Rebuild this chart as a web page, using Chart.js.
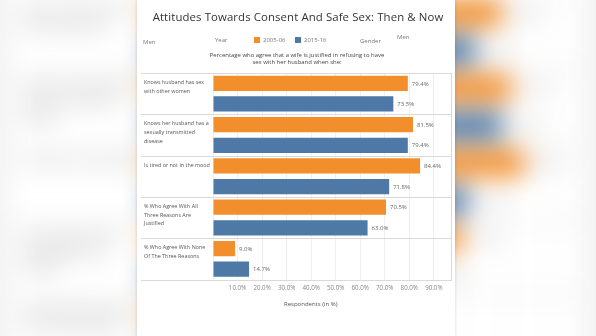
<!DOCTYPE html>
<html>
<head>
<meta charset="utf-8">
<script src="https://cdn.jsdelivr.net/npm/chart.js@4/dist/chart.umd.min.js"></script>
<style>
  html, body { margin: 0; padding: 0; }
  body {
    width: 596px; height: 336px; overflow: hidden; position: relative;
    background: #f2f2f2; font-family: 'Open Sans', sans-serif;
  }
  .stage { position: absolute; left: 0; top: 0; width: 596px; height: 336px; }
  /* blurred, zoomed copy behind the card */
  .stage.bg { transform-origin: 0 0; transform: translate(-240px, -139px) scale(1.82); filter: blur(7px); }
  .sheet { position: absolute; left: 137px; top: 0; width: 318px; height: 336px; background: #fff; }
  .fg .sheet { box-shadow: 0 0 3px rgba(0,0,0,0.16); }
  .t { position: absolute; white-space: nowrap; color: #777; font-size: 6px; line-height: 8px; }
  .title { position: absolute; left: 0; width: 596px; top: 8px; text-align: center; font-size: 11.4px; line-height: 18px; color: #333; letter-spacing: 0.1px; }
  .sub { position: absolute; left: 197px; width: 200px; top: 52px; text-align: center; font-size: 5.95px; line-height: 7px; color: #444; }
  .sw { position: absolute; width: 6px; height: 6px; top: 37px; }
  canvas { position: absolute; left: 0; top: 0; }
</style>
</head>
<body>
<script>
// ── DATA ──────────────────────────────────────────────────────────
const CATEGORIES = [
  ['Knows husband has sex', 'with other women'],
  ['Knows her husband has a', 'sexually transmitted', 'disease'],
  ['Is tired or not in the mood'],
  ['% Who Agree With All', 'Three Reasons Are', 'Justified'],
  ['% Who Agree With None', 'Of The Three Reasons']
];
const SERIES_NAMES = ['2005-06', '2015-16'];
const VALUES_2005 = [79.4, 81.5, 84.4, 70.5, 9.0];
const VALUES_2015 = [73.5, 79.4, 71.8, 63.0, 14.7];

const ORANGE = '#F28E2B';
const BLUE   = '#4E79A7';
const FONT   = "'Open Sans', sans-serif";

// ── DECORATION PLUGIN (row lines, row labels, value labels) ──────
const decor = {
  id: 'decor',
  afterDatasetsDraw(chart) {
    const { ctx, chartArea: a, scales: { y } } = chart;
    const step = (a.bottom - a.top) / CATEGORIES.length;
    ctx.save();
    ctx.strokeStyle = '#d9d9d9';
    ctx.lineWidth = 1;
    ctx.beginPath();
    for (let i = 0; i <= CATEGORIES.length; i++) {
      const yy = Math.round(a.top + i * step) + 0.5;
      ctx.moveTo(141, yy); ctx.lineTo(452, yy);
    }
    ctx.moveTo(Math.round(a.right) + 0.5, a.top);
    ctx.lineTo(Math.round(a.right) + 0.5, a.bottom);
    ctx.stroke();

    ctx.fillStyle = '#555';
    ctx.font = '5.4px ' + FONT;
    ctx.textBaseline = 'middle';
    ctx.textAlign = 'left';
    CATEGORIES.forEach((lines, i) => {
      const top = y.getPixelForValue(i) - step / 2;
      lines.forEach((l, j) => ctx.fillText(l, 144, top + 9.5 + j * 8.7));
    });

    ctx.fillStyle = '#666';
    ctx.font = '6px ' + FONT;
    chart.data.datasets.forEach((ds, di) => {
      chart.getDatasetMeta(di).data.forEach((bar, i) => {
        ctx.fillText(ds.data[i].toFixed(1) + '%', bar.x + 4, bar.y + 0.5);
      });
    });
    ctx.restore();
  }
};

// ── BUILD ONE STAGE (used for the card and for the blurred backdrop) ─
function buildStage(cls) {
  const st = document.createElement('div');
  st.className = 'stage ' + cls;
  st.innerHTML = `
    <div class="sheet"></div>
    <div class="title">Attitudes Towards Consent And Safe Sex: Then &amp; Now</div>
    <div class="t" style="left:143px;top:38px">Men</div>
    <div class="t" style="left:215px;top:36px">Year</div>
    <div class="sw" style="left:254px;background:${ORANGE}"></div>
    <div class="t" style="left:263px;top:36px">${SERIES_NAMES[0]}</div>
    <div class="sw" style="left:295px;background:${BLUE}"></div>
    <div class="t" style="left:304px;top:36px">${SERIES_NAMES[1]}</div>
    <div class="t" style="left:360px;top:37px">Gender</div>
    <div class="t" style="left:397px;top:33px">Men</div>
    <div class="sub">Percentage who agree that a wife is justified in refusing to have<br>sex with her husband when she:</div>
    <div class="t" style="left:284px;top:300px;color:#555">Respondents (in %)</div>
  `;
  const cv = document.createElement('canvas');
  cv.width = 596; cv.height = 336;
  st.appendChild(cv);
  document.body.appendChild(st);

  new Chart(cv, {
    type: 'bar',
    data: {
      labels: CATEGORIES.map(c => c.join(' ')),
      datasets: [
        { label: SERIES_NAMES[0], data: VALUES_2005, backgroundColor: ORANGE },
        { label: SERIES_NAMES[1], data: VALUES_2015, backgroundColor: BLUE }
      ]
    },
    options: {
      indexAxis: 'y',
      responsive: false,
      animation: false,
      categoryPercentage: 1.0,
      barPercentage: 0.74,
      layout: { padding: { left: 213, right: 145, top: 73, bottom: 36.5 } },
      plugins: { legend: { display: false }, tooltip: { enabled: false } },
      scales: {
        x: {
          min: 0, max: 97,
          grid: { color: '#efefef', drawTicks: false },
          border: { display: false },
          ticks: {
            stepSize: 10, includeBounds: false, padding: 5, autoSkip: false, maxRotation: 0,
            color: '#888', font: { size: 6.2, family: FONT },
            callback: v => (v === 0 || v % 10 !== 0) ? '' : v.toFixed(1) + '%'
          },
          afterFit(s) { s.height = 20; }
        },
        y: { display: false }
      }
    },
    plugins: [decor]
  });
}

buildStage('bg');
buildStage('fg');
</script>
</body>
</html>
